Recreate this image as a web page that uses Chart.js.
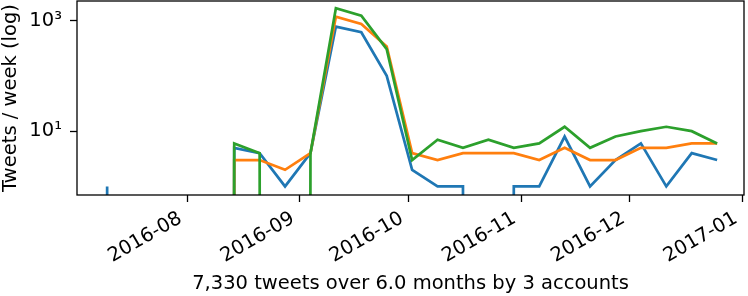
<!DOCTYPE html>
<html>
<head>
<meta charset="utf-8">
<script src="https://cdn.jsdelivr.net/npm/chart.js@4/dist/chart.umd.min.js"></script>
<style>
  html, body { margin: 0; padding: 0; background: #fff; }
</style>
</head>
<body>
<canvas id="chart" width="748" height="296"></canvas>
<script>
'use strict';

// Weekly buckets (week ending Sunday)
var weeks = [
  '2016-07-10', '2016-07-17', '2016-07-24', '2016-07-31', '2016-08-07',
  '2016-08-14', '2016-08-21', '2016-08-28', '2016-09-04', '2016-09-11',
  '2016-09-18', '2016-09-25', '2016-10-02', '2016-10-09', '2016-10-16',
  '2016-10-23', '2016-10-30', '2016-11-06', '2016-11-13', '2016-11-20',
  '2016-11-27', '2016-12-04', '2016-12-11', '2016-12-18', '2016-12-25'
];

// Tweets per week for each account
var accountBlue = [1, 0, 0, 0, 0, 5, 4, 1, 4, 780, 617, 100, 2, 1, 1, 0, 1, 1, 8, 1, 3, 6, 1, 4, 3];
var accountOrange = [0, 0, 0, 0, 0, 3, 3, 2, 4, 1180, 870, 340, 4, 3, 4, 4, 4, 3, 5, 3, 3, 5, 5, 6, 6];
var accountGreen = [0, 0, 0, 0, 0, 6, 4, 0, 4, 1670, 1230, 305, 3, 7, 5, 7, 5, 6, 12, 5, 8, 10, 12, 10, 6];

var monthTicks = ['2016-08-01', '2016-09-01', '2016-10-01', '2016-11-01', '2016-12-01', '2017-01-01'];
var yTicks = [10, 1000];

var xTitle = '7,330 tweets over 6.0 months by 3 accounts';
var yTitle = 'Tweets / week (log)';

// zero weeks are clipped far below the axis, like a log plot does
var CLIP = 1e-300;
var DAY = 864e5;
var FONT = 'DejaVu Sans';
var SIZE = 19.5;

function toPoints(values) {
  return weeks.map(function(w, i) {
    return { x: Date.parse(w), y: values[i] > 0 ? values[i] : CLIP };
  });
}

var supers = { '0': '\u2070', '1': '\u00b9', '2': '\u00b2', '3': '\u00b3' };

var first = Date.parse(weeks[0]);
var last = Date.parse(weeks[weeks.length - 1]);

var frame = {
  id: 'frame',
  afterDatasetsDraw: function(chart) {
    var a = chart.chartArea;
    var ctx = chart.ctx;
    ctx.save();
    ctx.strokeStyle = '#000';
    ctx.lineWidth = 1.3;
    ctx.strokeRect(a.left, a.top, a.right - a.left, a.bottom - a.top);
    ctx.restore();
  }
};

function line(data, color, order) {
  return {
    data: toPoints(data),
    borderColor: color,
    borderWidth: 2.7,
    pointRadius: 0,
    tension: 0,
    fill: false,
    order: order
  };
}

var axisGrid = {
  drawOnChartArea: false,
  drawTicks: true,
  tickLength: 7,
  tickColor: '#000',
  tickWidth: 1.3
};

new Chart(document.getElementById('chart').getContext('2d'), {
  type: 'line',
  data: {
    datasets: [
      line(accountBlue, '#1f77b4', 2),
      line(accountOrange, '#ff7f0e', 1),
      line(accountGreen, '#2ca02c', 0)
    ]
  },
  options: {
    responsive: false,
    animation: false,
    events: [],
    layout: { padding: { top: 1, right: 4, left: 0, bottom: 0 } },
    plugins: { legend: { display: false }, tooltip: { enabled: false } },
    scales: {
      x: {
        type: 'linear',
        min: first - 8.3 * DAY,
        max: last + 7.4 * DAY,
        afterBuildTicks: function(scale) {
          scale.ticks = monthTicks.map(function(m) { return { value: Date.parse(m) }; });
        },
        afterFit: function(scale) {
          scale.height = 101;
          scale.paddingLeft = 0;
          scale.paddingRight = 0;
        },
        ticks: {
          autoSkip: false,
          minRotation: 30,
          maxRotation: 30,
          padding: 5,
          labelOffset: -6.5,
          color: '#000',
          font: { family: FONT, size: SIZE },
          callback: function(v) {
            var d = new Date(v);
            var mo = d.getUTCMonth() + 1;
            return d.getUTCFullYear() + '-' + (mo < 10 ? '0' : '') + mo;
          }
        },
        grid: axisGrid,
        border: { display: false },
        title: {
          display: true,
          text: xTitle,
          color: '#000',
          font: { family: FONT, size: SIZE },
          padding: { top: 0, bottom: 0 }
        }
      },
      y: {
        type: 'logarithmic',
        min: 0.723,
        max: 2265,
        afterBuildTicks: function(scale) {
          scale.ticks = yTicks.map(function(v) { return { value: v }; });
        },
        afterFit: function(scale) {
          scale.width = 77;
          scale.paddingTop = 0;
          scale.paddingBottom = 0;
        },
        ticks: {
          padding: 8,
          color: '#000',
          font: { family: FONT, size: SIZE },
          callback: function(v) {
            return '10' + String(Math.round(Math.log10(v))).split('').map(function(c) { return supers[c]; }).join('');
          }
        },
        grid: axisGrid,
        border: { display: false },
        title: {
          display: true,
          text: yTitle,
          color: '#000',
          font: { family: FONT, size: SIZE, lineHeight: 1.1 },
          padding: { top: 0, bottom: 2 }
        }
      }
    }
  },
  plugins: [frame]
});
</script>
</body>
</html>
